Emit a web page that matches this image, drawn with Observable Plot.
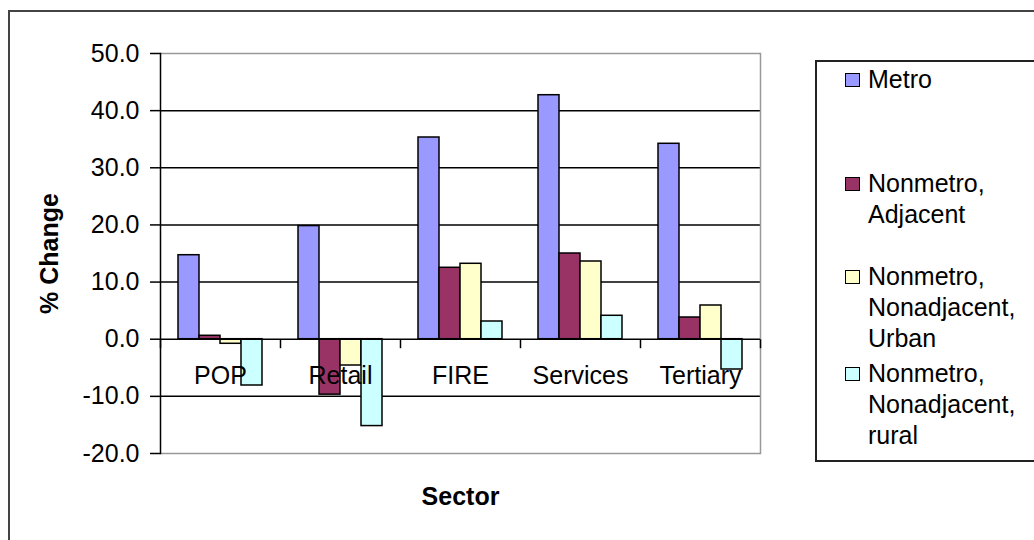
<!DOCTYPE html>
<html><head><meta charset="utf-8">
<script src="https://cdn.jsdelivr.net/npm/d3@7"></script>
<script src="https://cdn.jsdelivr.net/npm/@observablehq/plot@0.6"></script>
<style>
html,body{margin:0;padding:0;background:#fff;width:1034px;height:540px;overflow:hidden;font-family:"Liberation Sans",Arial,sans-serif;}
#outer{position:absolute;left:8px;top:10px;width:1100px;height:600px;border:2px solid #444;box-sizing:border-box;}
#chart{position:absolute;left:0;top:0;}
#legend{position:absolute;left:815px;top:60px;width:300px;height:402px;border:2px solid #222;box-sizing:border-box;background:#fff;}
.item{position:absolute;left:51px;font-size:25px;line-height:31px;color:#000;white-space:nowrap;}
.sw{position:absolute;left:-23px;top:9px;width:15px;height:14px;border:1.5px solid #000;box-sizing:border-box;}
</style></head><body>
<div id="outer"></div><div id="chart"></div><div id="legend"></div>
<script>
const sectors = ["POP", "Retail", "FIRE", "Services", "Tertiary"];
const seriesNames = ["Metro", "Nonmetro, Adjacent", "Nonmetro, Nonadjacent, Urban", "Nonmetro, Nonadjacent, rural"];
const legendLines = [["Metro"], ["Nonmetro,", "Adjacent"], ["Nonmetro,", "Nonadjacent,", "Urban"], ["Nonmetro,", "Nonadjacent,", "rural"]];
const metro    = [14.7, 19.8, 35.3, 42.7, 34.2];
const adjacent = [0.6, -9.7, 12.5, 15.0, 3.8];
const urban    = [-0.8, -4.6, 13.2, 13.6, 5.9];
const rural    = [-8.1, -15.2, 3.1, 4.1, -5.3];
const colors = ["#9999FF", "#993366", "#FFFFCC", "#CCFFFF"];
const yTicks = [-20, -10, 0, 10, 20, 30, 40, 50];
const gridTicks = [-10, 10, 20, 30, 40];

// layout only (legend entry tops, px)
const legendTops = [2, 106, 199, 296];

const seriesValues = [metro, adjacent, urban, rural];
const data = sectors.flatMap((s, i) => seriesNames.map((n, j) => ({sector: s, series: n, value: seriesValues[j][i]})));

const tickSym = {draw(ctx) { ctx.moveTo(0, 0); ctx.lineTo(0, 9); }};

const plot = Plot.plot({
  width: 800, height: 540,
  marginLeft: 158, marginRight: 39, marginTop: 53, marginBottom: 87,
  style: {fontFamily: "Liberation Sans, Arial, sans-serif", fontSize: "25px", color: "#000", background: "transparent"},
  fx: {domain: sectors, padding: 0, axis: null},
  x: {domain: seriesNames, paddingInner: 0, paddingOuter: 0.76, axis: null},
  y: {domain: [-20, 50]},
  color: {domain: seriesNames, range: colors},
  marks: [
    Plot.ruleY(gridTicks, {stroke: "#000", strokeWidth: 1.5}),
    Plot.ruleY([50, -20], {stroke: "#999", strokeWidth: 1.5}),
    Plot.frame({facet: "super", anchor: "right", stroke: "#999", strokeWidth: 1.5}),
    Plot.barY(data, {fx: "sector", x: "series", y: "value", fill: "series", stroke: "#000", strokeWidth: 1.5}),
    Plot.text(sectors, {fx: d => d, y: () => 0, text: d => d, dy: 37, fontSize: 25, fill: "#000"}),
    Plot.ruleY([0], {stroke: "#000", strokeWidth: 1.5}),
    Plot.dot(sectors, {fx: d => d, y: () => 0, frameAnchor: "left", symbol: tickSym, stroke: "#000", strokeWidth: 1.5, fill: "none"}),
    Plot.dot([sectors[sectors.length - 1]], {fx: d => d, y: () => 0, frameAnchor: "right", symbol: tickSym, stroke: "#000", strokeWidth: 1.5, fill: "none"}),
    Plot.axisY({ticks: yTicks, tickFormat: d => d.toFixed(1), tickSize: 10, tickPadding: 11, fontSize: 25, label: null, color: "#000", strokeWidth: 1.5}),
    Plot.frame({facet: "super", anchor: "left", stroke: "#000", strokeWidth: 1.5}),
    Plot.text(["% Change"], {facet: "super", frameAnchor: "left", dx: -111, rotate: -90, textAnchor: "middle", lineAnchor: "middle", fontWeight: "bold", fontSize: 25, text: d => d, fill: "#000"}),
    Plot.text(["Sector"], {facet: "super", frameAnchor: "bottom", dy: 43, textAnchor: "middle", lineAnchor: "middle", fontWeight: "bold", fontSize: 25, text: d => d, fill: "#000"})
  ]
});
document.getElementById("chart").appendChild(plot);

const legend = d3.select("#legend");
legendLines.forEach((lines, j) => {
  const it = legend.append("div").attr("class", "item").style("top", legendTops[j] + "px");
  it.append("div").attr("class", "sw").style("background", colors[j]);
  lines.forEach(l => it.append("div").text(l));
});
</script>
</body></html>
